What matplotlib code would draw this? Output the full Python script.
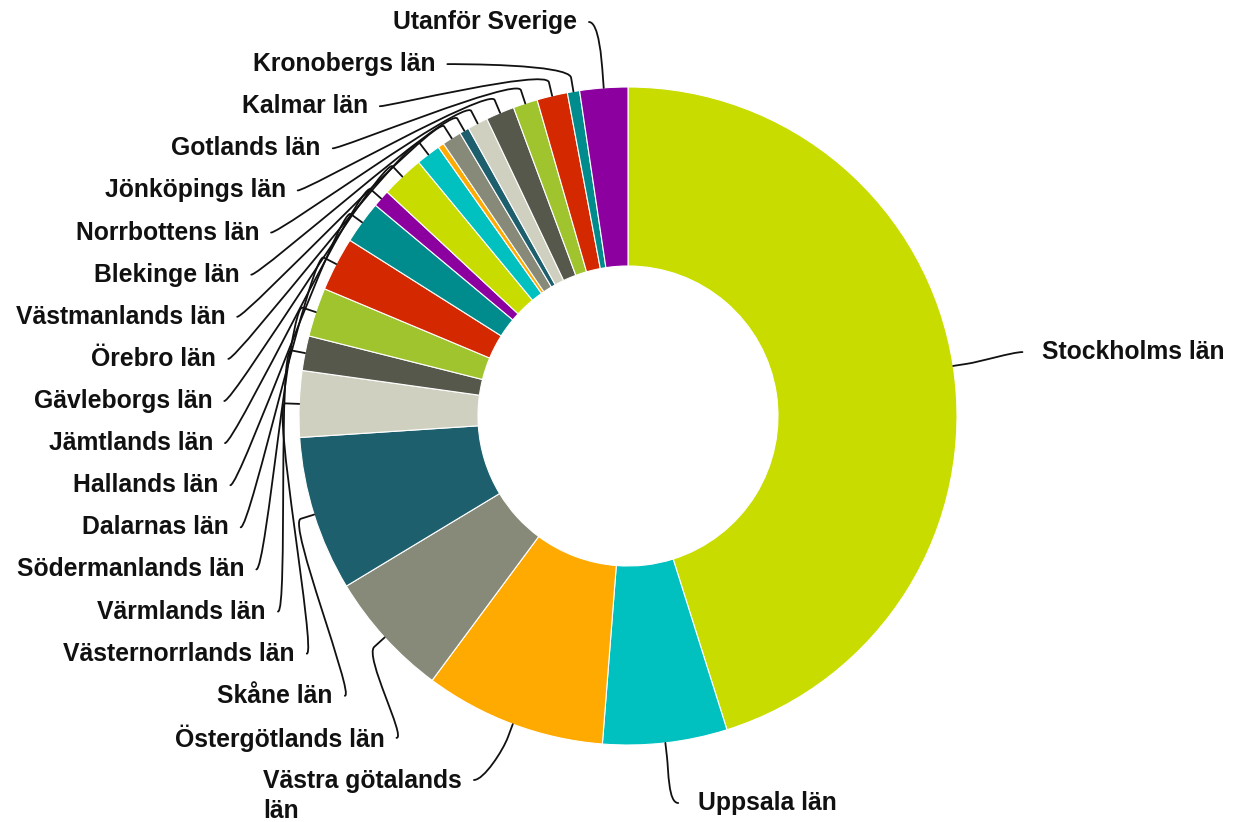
import numpy as np
import matplotlib
matplotlib.use("Agg")
import matplotlib.pyplot as plt
from matplotlib.path import Path
from matplotlib.patches import PathPatch

# ---------------- data ----------------
counties = ["Stockholms län", "Uppsala län", "Västra götalands\nlän", "Östergötlands län",
            "Skåne län", "Västernorrlands län", "Värmlands län", "Södermanlands län",
            "Dalarnas län", "Hallands län", "Jämtlands län", "Gävleborgs län", "Örebro län",
            "Västerbottens län", "Västmanlands län", "Blekinge län", "Norrbottens län",
            "Jönköpings län", "Gotlands län", "Kalmar län", "Kronobergs län", "Utanför Sverige"]
shares = [45.1, 6.1, 8.9, 6.2, 7.6, 3.25, 1.7, 2.4, 2.65, 2.1, 0.85, 2.1, 1.2,
          0.3, 0.95, 0.47, 1.0, 1.4, 1.2, 1.5, 0.6, 2.35]
# label hidden by overlap in the original chart
label_shown = [True] * 13 + [False] + [True] * 8

palette = ["#C8DC00", "#00C0C0", "#FFAA00", "#878A78", "#1E5F6E", "#D0D0C0",
           "#55584A", "#A0C42E", "#D42800", "#008C8C", "#8C00A0"]
colors = [palette[i % len(palette)] for i in range(len(shares))]

# ---------------- layout ----------------
W, H = 1240, 822
CX, CY = 628, 416          # image coords (y down)
R, R_IN = 329, 150
BREAK = 14
FS = 17.8
FONT = "Liberation Sans"

fig = plt.figure(figsize=(W / 100, H / 100), dpi=100)
ax = fig.add_axes([0, 0, 1, 1])

ax.pie(shares, colors=colors, radius=R, center=(CX, H - CY), startangle=90,
       counterclock=False,
       wedgeprops=dict(width=R - R_IN, edgecolor="white", linewidth=0.8))
ax.set_xlim(0, W)
ax.set_ylim(0, H)
ax.set_aspect("auto")
ax.axis("off")

vals = np.array(shares, dtype=float)
cum = np.cumsum(vals) - vals / 2
theta = np.deg2rad(360 * cum / vals.sum())   # clockwise from top


def img(x, y):
    return x, H - y


def connector(lx, ly, side, th):
    tx, ty = CX + R * np.sin(th), CY - R * np.cos(th)
    bx, by = CX + (R + BREAK) * np.sin(th), CY - (R + BREAK) * np.cos(th)
    c1 = (lx + (10 if side == "left" else -10), ly)
    c2 = (2 * bx - tx, 2 * by - ty)
    verts = [img(lx, ly), img(*c1), img(*c2), img(bx, by), img(tx, ty)]
    codes = [Path.MOVETO, Path.CURVE4, Path.CURVE4, Path.CURVE4, Path.LINETO]
    ax.add_patch(PathPatch(Path(verts, codes), fill=False, edgecolor="#111111",
                           linewidth=1.3, capstyle="round", joinstyle="round"))


idx = [i for i in range(len(shares)) if label_shown[i]]
left = [i for i in idx if np.rad2deg(theta[i]) > 180]
right = [i for i in idx if np.rad2deg(theta[i]) <= 180]

# left side: labels stacked evenly, ordered top to bottom
left_sorted = sorted(left, key=lambda i: -theta[i])
slots = np.linspace(22, 780, len(left_sorted))
for i, y in zip(left_sorted, slots):
    dy = y - CY
    xr = CX - 416 * np.sqrt(max(0.0, 1 - (dy / 397) ** 2))
    nl = counties[i].count("\n")
    ax.text(*img(xr, y + nl * 16), counties[i], ha="right", va="center",
            multialignment="left", fontsize=FS, fontweight="bold", family=FONT,
            color="#111111", linespacing=1.3)
    connector(xr + 12, y, "left", theta[i])

# right side
for i in right:
    y = min(CY - (R + 91) * np.cos(theta[i]), 803)
    dy = y - CY
    xl = CX + 416 * np.sqrt(max(0.0, 1 - (dy / 392) ** 2)) + 4
    ax.text(*img(xl, y), counties[i], ha="left", va="center", fontsize=FS,
            fontweight="bold", family=FONT, color="#111111")
    connector(xl - 20, y, "right", theta[i])

fig.savefig("out.png", dpi=100)
